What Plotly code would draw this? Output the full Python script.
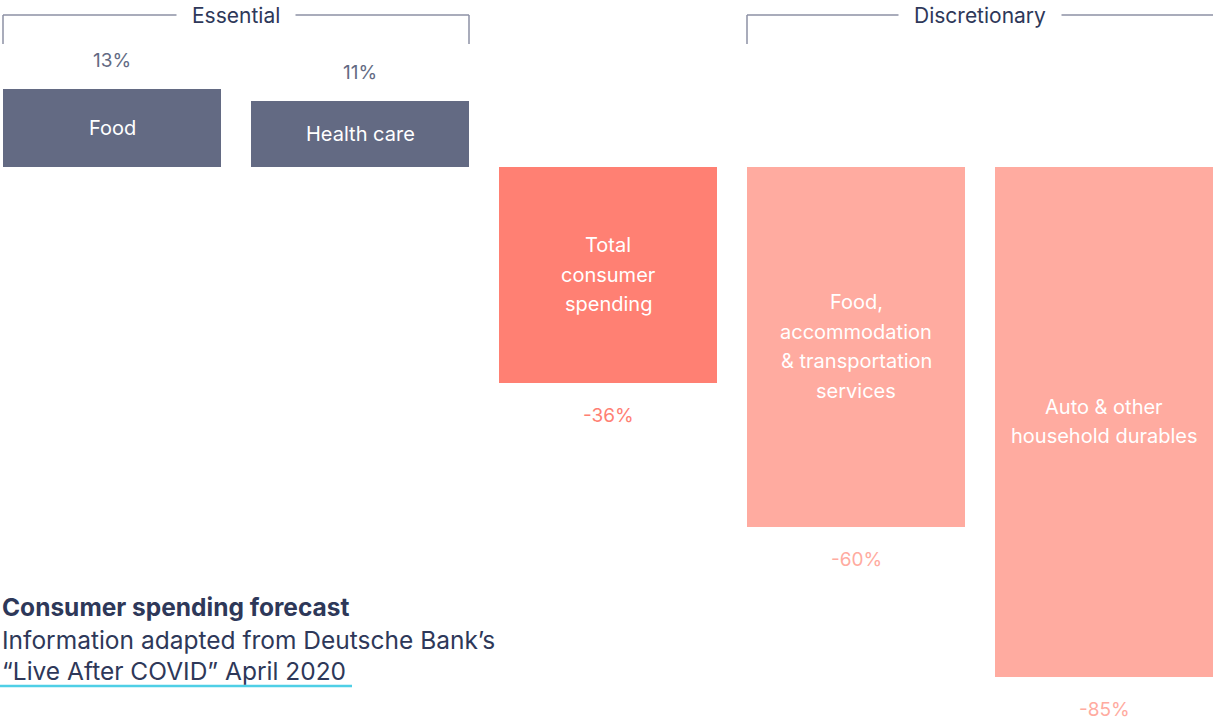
import plotly.graph_objects as go

# ---- data ----
categories = ["Food", "Health care", "Total consumer spending",
              "Food, accommodation & transportation services",
              "Auto & other household durables"]
bar_label_lines = [["Food"], ["Health care"], ["Total", "consumer", "spending"],
                   ["Food,", "accommodation", "& transportation", "services"],
                   ["Auto & other", "household durables"]]
values = [13, 11, -36, -60, -85]
value_labels = ["13%", "11%", "-36%", "-60%", "-85%"]
groups = ["Essential", "Essential", "Total", "Discretionary", "Discretionary"]

# ---- style ----
FONT = "Inter"
NAVY = "#2e3859"
GREY_BLUE = "#636a83"
CORAL = "#ff8073"
SALMON = "#ffaba0"
LINE = "#8c91a4"
color_map = {"Essential": GREY_BLUE, "Total": CORAL, "Discretionary": SALMON}
bar_colors = [color_map[g] for g in groups]

W, H = 1213, 726
BAR_W = 0.879
LINE_GAP = 29.5

fig = go.Figure(go.Bar(
    x=categories, y=values, width=BAR_W,
    marker=dict(color=bar_colors, line=dict(width=0)),
    hoverinfo="skip",
))

annotations = []
# labels inside the bars (centered on bar middle)
for c, v, lines in zip(categories, values, bar_label_lines):
    n = len(lines)
    for k, ln in enumerate(lines):
        annotations.append(dict(
            x=c, y=v / 2, xref="x", yref="y", text=ln, showarrow=False,
            yshift=((n - 1) / 2 - k) * LINE_GAP, yanchor="middle",
            font=dict(family=FONT, size=20, color="white"),
        ))

# value labels above / below the bars
for c, v, lab, col in zip(categories, values, value_labels, bar_colors):
    annotations.append(dict(
        x=c, y=v, xref="x", yref="y", text=lab, showarrow=False,
        yshift=28 if v > 0 else -33, yanchor="middle",
        font=dict(family=FONT, size=19, color=col),
    ))

# group brackets
shapes = []
def bracket(i0, i1, label, right_tick=True):
    x0 = i0 - BAR_W / 2
    x1 = i1 + BAR_W / 2
    ytop = 1 - 15 / H
    ybot = 1 - 44 / H
    line = dict(color=LINE, width=1.5)
    shapes.append(dict(type="line", xref="x", yref="paper", x0=x0, x1=x1,
                       y0=ytop, y1=ytop, line=line))
    shapes.append(dict(type="line", xref="x", yref="paper", x0=x0, x1=x0,
                       y0=ytop, y1=ybot, line=line))
    if right_tick:
        shapes.append(dict(type="line", xref="x", yref="paper", x0=x1, x1=x1,
                           y0=ytop, y1=ybot, line=line))
    annotations.append(dict(
        x=(i0 + i1) / 2, y=ytop, xref="x", yref="paper", text=label,
        showarrow=False, bgcolor="white", borderpad=15,
        font=dict(family=FONT, size=21, color=NAVY),
        xanchor="center", yanchor="middle",
    ))

bracket(0, 1, "Essential")
bracket(3, 4, "Discretionary", right_tick=False)

# caption
cap_x = 0
caption = [
    ("<b>Consumer spending forecast</b>", 607),
    ("Information adapted from Deutsche Bank’s", 640),
    ("“Live After COVID” April 2020", 671),
]
for txt, ypx in caption:
    annotations.append(dict(
        x=cap_x, y=1 - ypx / H, xref="paper", yref="paper", text=txt,
        showarrow=False, xanchor="left", yanchor="middle", align="left",
        font=dict(family=FONT, size=24.5, color=NAVY),
    ))
shapes.append(dict(type="line", xref="paper", yref="paper",
                   x0=0, x1=352 / W, y0=1 - 686 / H, y1=1 - 686 / H,
                   line=dict(color="#4fcfe6", width=2.5)))

px_per_unit = 6.0
base_px = 166.7
fig.update_layout(
    width=W, height=H,
    margin=dict(l=0, r=0, t=0, b=0, pad=0),
    paper_bgcolor="white", plot_bgcolor="white",
    showlegend=False,
    bargap=0,
    xaxis=dict(visible=False, range=[-112 / 248, (W - 112) / 248],
               fixedrange=True),
    yaxis=dict(visible=False,
               range=[-(H - base_px) / px_per_unit, base_px / px_per_unit],
               fixedrange=True),
    annotations=annotations,
    shapes=shapes,
)

fig.write_html("out.html", config={"displayModeBar": False},
               post_script="document.body.style.margin='0px';")
